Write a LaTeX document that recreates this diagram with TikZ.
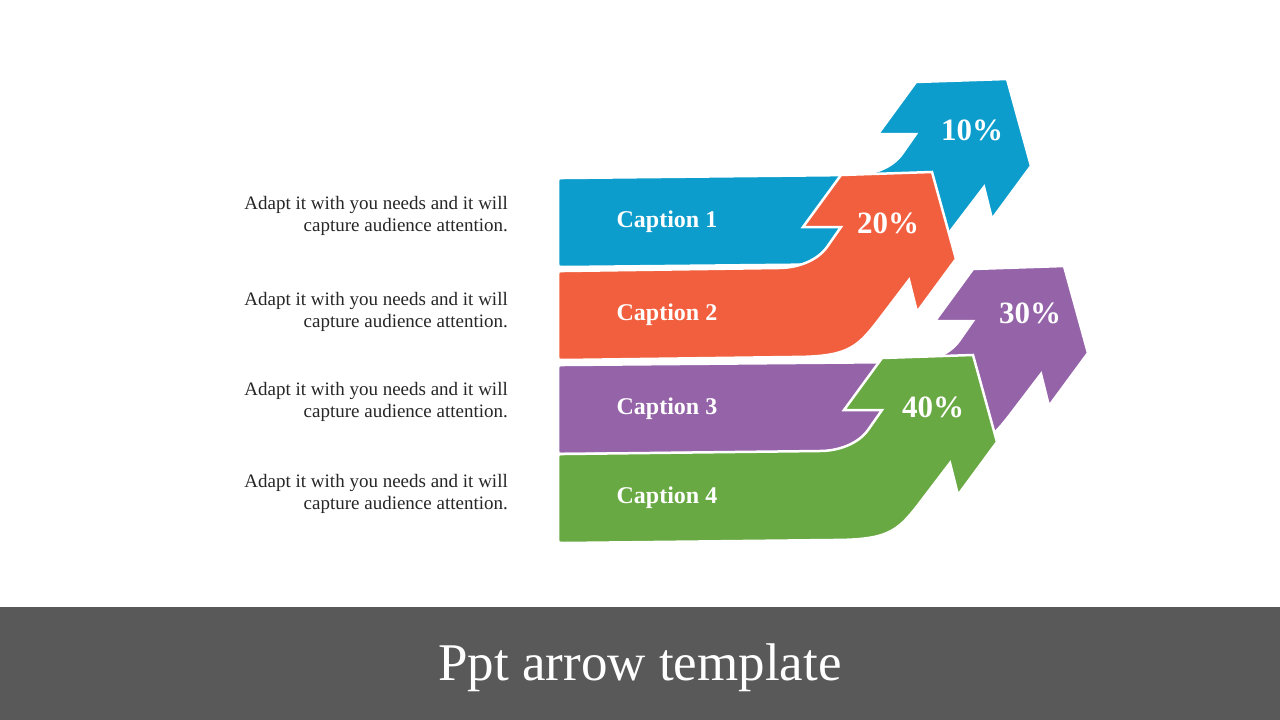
\documentclass[tikz,border=0pt]{standalone}
\usepackage{fontspec}
\setmainfont{Liberation Serif}
\usepackage{tikz}
\definecolor{arblue}{HTML}{0C9DCC}
\definecolor{arorange}{HTML}{F25F3F}
\definecolor{arpurple}{HTML}{9563A8}
\definecolor{argreen}{HTML}{69A943}
\definecolor{footgray}{HTML}{595959}
\definecolor{bodytext}{HTML}{262626}

\begin{document}
\begin{tikzpicture}[
    x=1pt, y=-1pt,
    ribbon/.style={fill=#1, draw=white, line width=2.5pt},
    caption/.style={text=white, font=\fontsize{24}{26}\selectfont\bfseries},
    pct/.style={text=white, font=\fontsize{31}{34}\selectfont\bfseries},
    desc/.style={text=bodytext, align=right, anchor=east, inner sep=0pt, font=\fontsize{19}{22}\selectfont},
]
    \useasboundingbox (0,0) rectangle (1280,720);
    % Footer band
    \fill[footgray] (0,607) rectangle (1280,720);
    \node[text=white, font=\fontsize{53}{56}\selectfont] (title) at (640,668) {Ppt arrow template};
    % Arrows, back to front
    \foreach \col/\hx/\hy/\n/\px/\py/\pc in {arblue/916/82/1/972/130/10, arorange/841/175/2/888/223/20, arpurple/973/269/3/1030/313/30, argreen/882/358/4/933/407/40} {
        \path[ribbon=\col] (564,\hy+185) .. controls (558,\hy+185) .. (558,\hy+179)
            -- (558,\hy+102) .. controls (558,\hy+96) .. (564,\hy+96)
            -- (\hx-62,\hy+93) .. controls (\hx-44,\hy+93) and (\hx-24,\hy+86) .. (\hx-14,\hy+72)
            -- (\hx,\hy+52) -- (\hx-38,\hy+52) -- (\hx,\hy) -- (\hx+91,\hy-3)
            -- (\hx+115,\hy+84) -- (\hx+76,\hy+137) -- (\hx+68,\hy+105)
            -- (\hx+36,\hy+147) .. controls (\hx+15,\hy+174) and (\hx+5,\hy+182) .. (\hx-50,\hy+182) -- cycle;
        \node[caption] (cap\n) at (667,\hy+140) {Caption \n};
        \node[pct] (pct\n) at (\px,\py) {\pc\%};
    }
    % Descriptions
    \foreach \y/\m in {216/1, 312/2, 402/3, 494/4} {
        \node[desc] (desc\m) at (508,\y) {Adapt it with you needs and it will\\capture audience attention.};
    }
\end{tikzpicture}
\end{document}
